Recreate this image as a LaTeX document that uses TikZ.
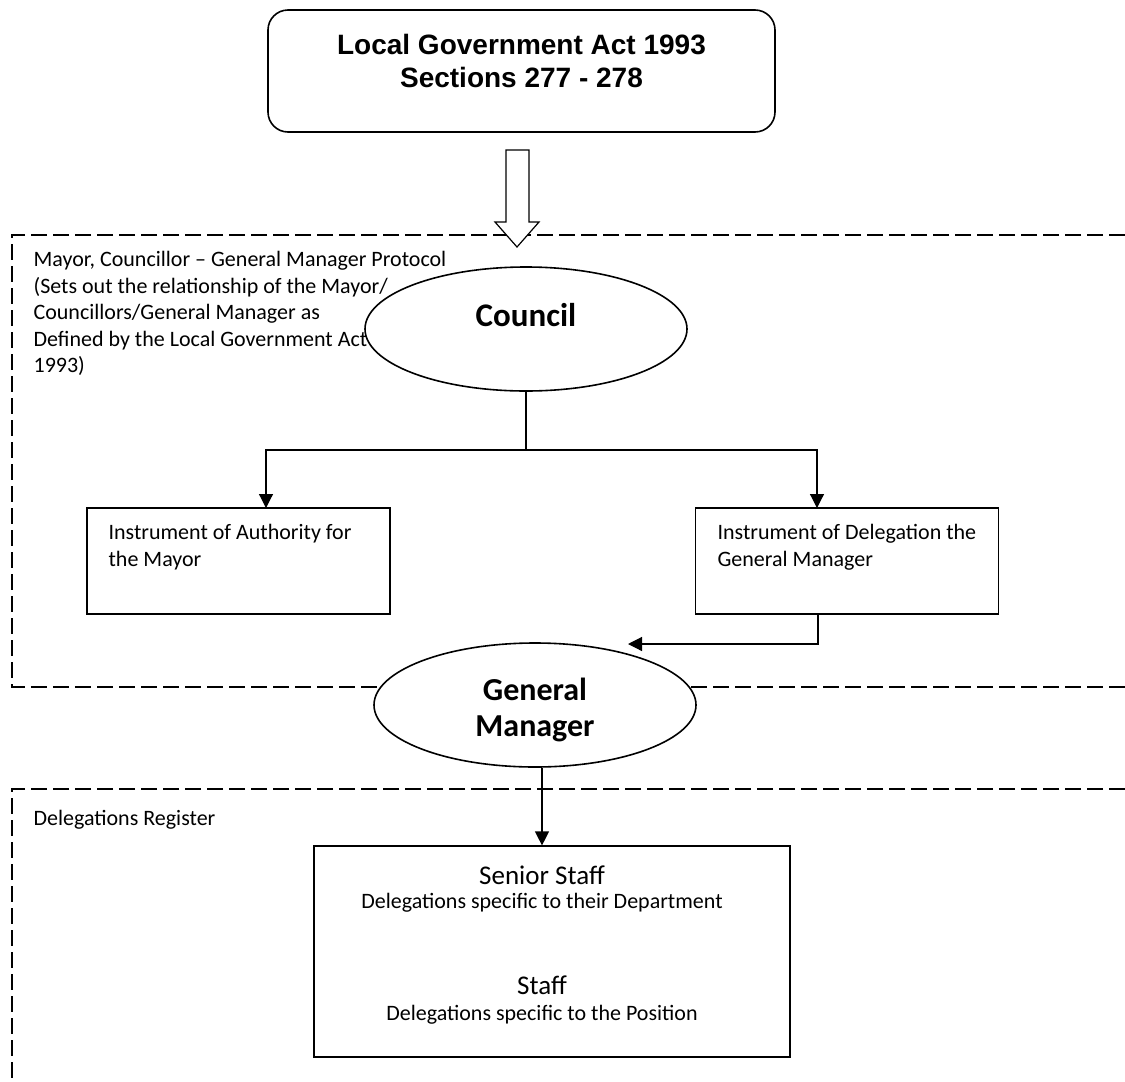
\documentclass[tikz,border=0pt]{standalone}
\usepackage{fontspec}
\setmainfont{Carlito}
\newfontfamily\arialfont{Liberation Sans}
\usetikzlibrary{arrows.meta,positioning,shapes.geometric}

\begin{document}
\begin{tikzpicture}[x=0.5pt,y=-0.5pt,line width=0.6pt,
  arr/.style={-{Triangle[length=7pt,width=7pt]}},
  frame/.style={line width=1pt,dash pattern=on 8pt off 3pt},
  box/.style={draw,minimum width=151.5pt,minimum height=53pt,inner sep=0pt},
  oval/.style={draw,ellipse,fill=white,line width=0.8pt,minimum width=161pt,minimum height=62pt,inner sep=0pt},
  note/.style={font=\fontsize{11}{13.2}\selectfont,align=left,inner sep=0pt}]
\useasboundingbox (0,0) rectangle (1125,1082);

% dashed frames
\draw[frame] (1125,235) -- (12,235) -- (12,687) -- (1125,687);
\draw[frame] (1125,789) -- (12,789) -- (12,1082);

% act
\node[draw,rounded corners=10pt,minimum width=253.5pt,minimum height=61pt,line width=0.8pt] (act) at (521.5,71) {};
\node[font=\arialfont\bfseries\fontsize{14}{16.5}\selectfont,align=center] (actt) at (521.5,61) {Local Government Act 1993\\Sections 277 - 278};
\draw[fill=white] (506,150) -- (529,150) -- (529,222) -- (539,222) -- (517,247) -- (495,222) -- (506,222) -- cycle;

\node[note,anchor=north west] (protocol) at (33,251) {Mayor, Councillor – General Manager Protocol\\(Sets out the relationship of the Mayor/\\Councillors/General Manager as\\Defined by the Local Government Act\\1993)};

% council
\node[oval] (council) at (526,329) {};
\node[font=\bfseries\fontsize{16.5}{19}\selectfont] (councilt) at (526,315) {Council};

\node[box] (mayor) at (238.5,561) {};
\node[note,anchor=north west] (mayort) at (108,524) {Instrument of Authority for\\the Mayor};
\node[box] (deleg) at (847,561) {};
\node[note,anchor=north west] (delegt) at (717,524) {Instrument of Delegation the\\General Manager};

\coordinate (split) at (526,450);
\coordinate (mayorin) at (266,508);
\coordinate (delegin) at (817,508);
\coordinate (delegout) at (818,614);
\coordinate (gmin) at (628,644);
\draw (council.south) -- (split);
\draw[arr] (split) -| (mayorin);
\draw[arr] (split) -| (delegin);
\draw[arr] (delegout) |- (gmin);

% general manager
\node[oval] (gm) at (535,705) {};
\node[font=\bfseries\fontsize{16}{18}\selectfont,align=center] (gmt) at (535,710) {General\\Manager};

\node[note,anchor=west] (register) at (33,820) {Delegations Register};

% staff
\node[draw,minimum width=238pt,minimum height=105.5pt] (staff) at (552,951.5) {};
\node[font=\fontsize{13.5}{16}\selectfont] (senior) at (542,875) {Senior Staff};
\node[font=\fontsize{11}{13}\selectfont] (seniord) at (542,903) {Delegations specific to their Department};
\node[font=\fontsize{13.5}{16}\selectfont] (junior) at (542,985) {Staff};
\node[font=\fontsize{11}{13}\selectfont] (juniord) at (542,1015) {Delegations specific to the Position};

\draw[arr] ([xshift=3.5pt]gm.south) -- ([xshift=3.5pt]gm.south |- staff.north);
\end{tikzpicture}
\end{document}
